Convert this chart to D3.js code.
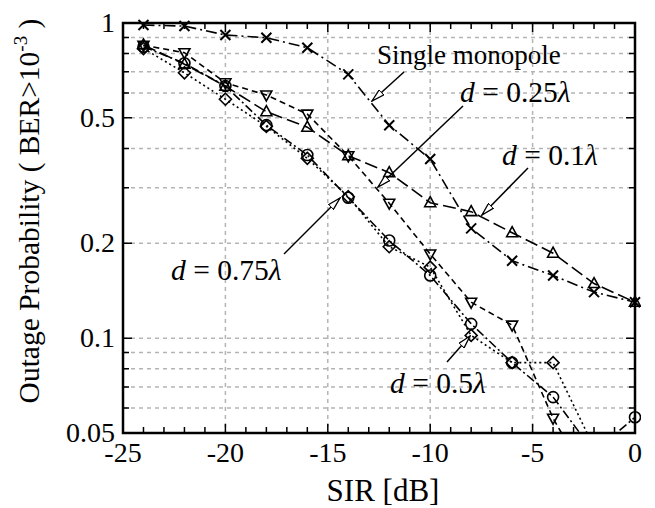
<!DOCTYPE html>
<html lang="en">
<head>
  <meta charset="utf-8">
  <title>Outage probability vs SIR</title>
  <script src="https://d3js.org/d3.v7.min.js"></script>
  <style>
    body { margin: 0; background: #fff; }
    text { font-family: "Liberation Serif", "Times New Roman", serif; fill: #000; }
  </style>
</head>
<body>
<script>
// SIR values (dB), sampled every 2 dB
var sir = [-24, -22, -20, -18, -16, -14, -12, -10, -8, -6, -4, -2, 0];

// outage probability
var singleMono = [0.985, 0.978, 0.916, 0.898, 0.835, 0.687, 0.474, 0.370, 0.223, 0.176, 0.158, 0.140, 0.130];
var d010 = [0.852, 0.74, 0.63, 0.523, 0.467, 0.379, 0.335, 0.269, 0.252, 0.216, 0.186, 0.149, 0.130];
var d025 = [0.85, 0.805, 0.646, 0.591, 0.514, 0.379, 0.268, 0.185, 0.130, 0.110, 0.0557, 0.033];
var d050 = [0.83, 0.695, 0.573, 0.47, 0.372, 0.281, 0.195, 0.168, 0.102, 0.0836, 0.0836, 0.045];
var d075 = [0.841, 0.745, 0.631, 0.474, 0.381, 0.279, 0.204, 0.158, 0.111, 0.0836, 0.065, 0.0435, 0.0561];

var xTicks = [-25, -20, -15, -10, -5, 0];
var yTicks = [1, 0.5, 0.2, 0.1, 0.05];
var yGrid = [0.06, 0.07, 0.08, 0.09, 0.1, 0.2, 0.3, 0.4, 0.5, 0.6, 0.7, 0.8, 0.9];

var series = [
  {name: "single", values: singleMono, dash: "11,4,2,4", mark: "x"},
  {name: "d0.1", values: d010, dash: "13,5", mark: "tri"},
  {name: "d0.25", values: d025, dash: "6,4", mark: "tridown"},
  {name: "d0.5", values: d050, dash: "2,3", mark: "diamond"},
  {name: "d0.75", values: d075, dash: "9,3,2,3", mark: "circle"}
];

var W = 655, H = 508;
// plot box (note: "top" is taken by window.top, so use pT etc.)
var pL = 123, pR = 635, pT = 23, pB = 433;

var x = d3.scaleLinear().domain([-25, 0]).range([pL, pR]);
var y = d3.scaleLog().domain([0.05, 1]).range([pB, pT]);

var svg = d3.select("body").append("svg")
  .attr("width", W)
  .attr("height", H);

var defs = svg.append("defs");
defs.append("clipPath").attr("id", "plot")
  .append("rect")
  .attr("x", pL).attr("y", pT - 6)
  .attr("width", pR - pL + 6).attr("height", pB - pT + 6);

// arrow head for the annotations
defs.append("marker")
  .attr("id", "arr")
  .attr("viewBox", "0 0 14 8")
  .attr("refX", 13).attr("refY", 4)
  .attr("markerWidth", 14).attr("markerHeight", 8)
  .attr("markerUnits", "userSpaceOnUse")
  .attr("orient", "auto")
  .append("path")
  .attr("d", "M0,0.5 L13,4 L0,7.5 Z")
  .attr("fill", "#fff")
  .attr("stroke", "#000")
  .attr("stroke-width", 1.3);

// grid
var grid = svg.append("g");
grid.selectAll(".vg").data(xTicks.slice(1, -1)).enter().append("line")
  .attr("x1", function(d) { return x(d); })
  .attr("x2", function(d) { return x(d); })
  .attr("y1", pT).attr("y2", pB)
  .attr("stroke", "#b4b4b4").attr("stroke-width", 1.5)
  .attr("stroke-dasharray", "4,4");
grid.selectAll(".hg").data(yGrid).enter().append("line")
  .attr("x1", pL).attr("x2", pR)
  .attr("y1", function(d) { return y(d); })
  .attr("y2", function(d) { return y(d); })
  .attr("stroke", "#b4b4b4").attr("stroke-width", 1.5)
  .attr("stroke-dasharray", "4,4");

// ticks, pointing inward on all four sides
var ax = svg.append("g").attr("stroke", "#000").attr("stroke-width", 1.5);
var xMinor = d3.range(-24, 0, 1);
ax.selectAll(".xt").data(xMinor).enter().append("path")
  .attr("d", function(d) {
    var len = d % 5 === 0 ? 9 : 6;
    var px = x(d);
    return "M" + px + "," + pB + "V" + (pB - len) + "M" + px + "," + pT + "V" + (pT + len);
  });
ax.selectAll(".yt").data(yGrid).enter().append("path")
  .attr("d", function(d) {
    var len = yTicks.indexOf(d) >= 0 ? 9 : 6;
    var py = y(d);
    return "M" + pL + "," + py + "H" + (pL + len) + "M" + pR + "," + py + "H" + (pR - len);
  });

svg.append("rect")
  .attr("x", pL).attr("y", pT)
  .attr("width", pR - pL).attr("height", pB - pT)
  .attr("fill", "none").attr("stroke", "#000").attr("stroke-width", 2.5);

// tick labels
svg.selectAll(".xl").data(xTicks).enter().append("text")
  .attr("x", function(d) { return x(d); })
  .attr("y", pB + 29)
  .attr("text-anchor", "middle")
  .attr("font-size", 28)
  .text(function(d) { return d; });

svg.selectAll(".yl").data(yTicks).enter().append("text")
  .attr("x", pL - 8)
  .attr("y", function(d) { return y(d) + 9; })
  .attr("text-anchor", "end")
  .attr("font-size", 28)
  .text(function(d) { return d; });

svg.append("text")
  .attr("x", 383)
  .attr("y", 501)
  .attr("text-anchor", "middle")
  .attr("font-size", 31)
  .text("SIR [dB]");

var yl = svg.append("text")
  .attr("text-anchor", "middle")
  .attr("font-size", 29.5)
  .attr("transform", "translate(39,211) rotate(-90)");
yl.append("tspan").text("Outage Probability ( BER>10");
yl.append("tspan").attr("font-size", 19).attr("dy", -12).text("-3");
yl.append("tspan").attr("dy", 12).text(" )");

// curves
var plot = svg.append("g").attr("clip-path", "url(#plot)");
var line = d3.line()
  .x(function(d, i) { return x(sir[i]); })
  .y(function(d) { return y(d); });

series.forEach(function(s) {
  plot.append("path")
    .datum(s.values)
    .attr("d", line)
    .attr("fill", "none")
    .attr("stroke", "#000")
    .attr("stroke-width", 1.6)
    .attr("stroke-dasharray", s.dash);
});

function markPath(type) {
  if (type === "x") return "M-5,-5L5,5M-5,5L5,-5";
  if (type === "tri") return "M0,-6L5.5,4L-5.5,4Z";
  if (type === "tridown") return "M0,6L5.5,-4L-5.5,-4Z";
  if (type === "diamond") return "M0,-6L6,0L0,6L-6,0Z";
  return "M5.5,0A5.5,5.5 0 1,1 -5.5,0A5.5,5.5 0 1,1 5.5,0Z";
}

series.forEach(function(s) {
  var pts = s.values.map(function(v, i) { return {x: sir[i], v: v}; })
    .filter(function(d) { return d.v >= 0.05; });
  plot.selectAll(".m-" + s.mark)
    .data(pts)
    .enter().append("path")
    .attr("transform", function(d) { return "translate(" + x(d.x) + "," + y(d.v) + ")"; })
    .attr("d", markPath(s.mark))
    .attr("fill", "none")
    .attr("stroke", "#000")
    .attr("stroke-width", s.mark === "x" ? 2 : 1.6);
});

// annotations
var notes = [
  {t: ["Single monopole"], size: 27, tx: 377, ty: 64, from: [404, 72], to: [372, 101]},
  {t: ["d", " = 0.25", "λ"], size: 29.5, tx: 460, ty: 102, from: [463, 106], to: [378, 187]},
  {t: ["d", " = 0.1", "λ"], size: 29.5, tx: 502, ty: 165, from: [528, 168], to: [482, 215]},
  {t: ["d", " = 0.75", "λ"], size: 29.5, tx: 171, ty: 280, from: [284, 254], to: [340, 198]},
  {t: ["d", " = 0.5", "λ"], size: 29.5, tx: 390, ty: 393, from: [447, 362], to: [470, 336]}
];

notes.forEach(function(n) {
  svg.append("line")
    .attr("x1", n.from[0]).attr("y1", n.from[1])
    .attr("x2", n.to[0]).attr("y2", n.to[1])
    .attr("stroke", "#000").attr("stroke-width", 1.5)
    .attr("marker-end", "url(#arr)");
  var t = svg.append("text")
    .attr("x", n.tx).attr("y", n.ty)
    .attr("font-size", n.size)
    .attr("xml:space", "preserve");
  n.t.forEach(function(part) {
    t.append("tspan")
      .attr("font-style", (part === "d" || part === "λ") ? "italic" : "normal")
      .text(part);
  });
});
</script>
</body>
</html>
